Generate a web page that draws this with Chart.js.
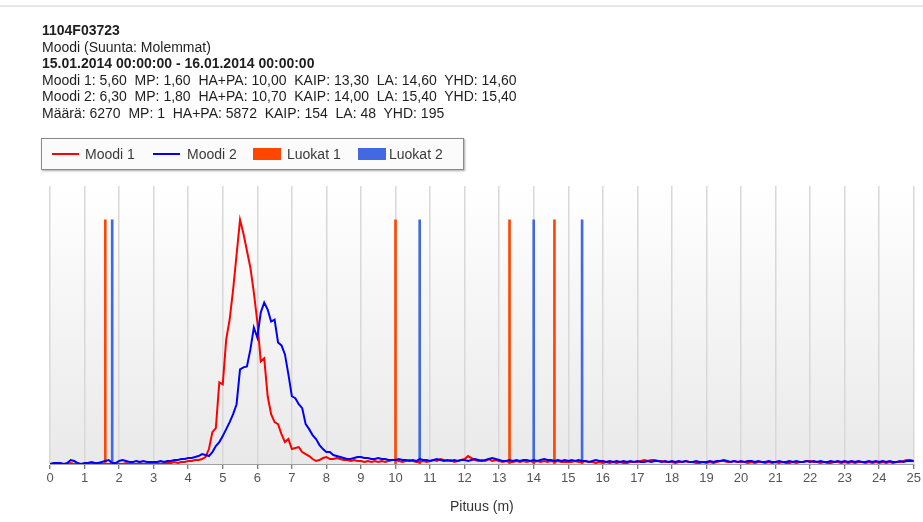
<!DOCTYPE html>
<html>
<head>
<meta charset="utf-8">
<script src="https://cdn.jsdelivr.net/npm/chart.js@4"></script>
<style>
  html, body { margin: 0; padding: 0; background: #ffffff; }
  #wrap { position: relative; width: 923px; height: 522px; overflow: hidden; font-family: "Liberation Sans", Arial, sans-serif; }
  #topline { position: absolute; left: 0; top: 5px; width: 923px; height: 2px; background: #e6e6e6; }
  #header { position: absolute; left: 42px; top: 22px; font-size: 14px; line-height: 16.6px; color: #1e1e1e; white-space: pre; }
  #header .b { font-weight: bold; }
  #legend { position: absolute; left: 41px; top: 138px; width: 421px; height: 30px; border: 1.5px solid #8a8a8a; background: #fbfbfb; box-shadow: 1px 1px 2px rgba(0,0,0,0.35); font-size: 14px; color: #3a3a3a; }
  .li { position: absolute; top: 0; height: 30px; line-height: 30px; white-space: pre; }
  .sw-line { position: absolute; height: 2px; width: 27px; top: 14px; }
  .sw-box { position: absolute; height: 12px; width: 28px; top: 9px; }
  canvas { position: absolute; left: 0; top: 0; }
</style>
</head>
<body>
<div id="wrap">
  <div id="topline"></div>
  <canvas id="c" width="923" height="522"></canvas>
  <div id="header"></div>
  <div id="legend"></div>
</div>
<script>
// ---- Header texts ----
const headerLines = [
  "1104F03723",
  "Moodi (Suunta: Molemmat)",
  "15.01.2014 00:00:00 - 16.01.2014 00:00:00",
  "Moodi 1: 5,60  MP: 1,60  HA+PA: 10,00  KAIP: 13,30  LA: 14,60  YHD: 14,60",
  "Moodi 2: 6,30  MP: 1,80  HA+PA: 10,70  KAIP: 14,00  LA: 15,40  YHD: 15,40",
  "Määrä: 6270  MP: 1  HA+PA: 5872  KAIP: 154  LA: 48  YHD: 195"
];
const boldLines = [0, 2];

// ---- Series names ----
const seriesNames = ["Moodi 1", "Moodi 2", "Luokat 1", "Luokat 2"];

// ---- Length axis (m), one value per 0.1 m from 0.0 to 25.0 ----
const xStep = 0.1;
const xTickLabels = ["0","1","2","3","4","5","6","7","8","9","10","11","12","13","14","15","16","17","18","19","20","21","22","23","24","25"];
const axisTitle = "Pituus (m)";

// Moodi 1 frequency (relative units), 0.0 ... 25.0
const moodi1 = [
  0,0,0,0,0,0,1,0,0,0,
  0,0,0,0,0,0,0,0,1,0,
  0,0,1,0,0,0,1,0,0,1,
  0,1,0,1,1,1,2,1,2,2,
  3,3,4,4,5,7,15,32,36,82,
  80,125,145,175,210,245,231,214,197,172,
  143,103,106,68,50,42,40,30,22,25,
  15,16,17,12,10,8,5,3,4,6,
  7,5,5,6,5,4,4,3,4,3,
  3,2,3,2,3,2,3,2,3,4,
  4,3,2,3,4,3,2,2,3,2,
  3,4,3,5,4,3,4,2,3,4,
  5,8,6,4,3,4,3,5,3,4,
  3,2,3,2,2,3,2,3,2,3,
  2,3,2,3,2,3,2,3,2,2,
  2,2,3,2,2,3,2,2,1,2,
  1,2,1,2,1,2,1,1,2,2,
  2,3,4,3,4,4,3,3,2,2,
  2,1,2,2,3,2,2,1,1,2,
  1,2,1,2,3,3,2,2,3,2,
  2,2,1,2,1,2,2,1,2,1,
  2,1,2,1,1,2,1,2,2,3,
  3,2,2,1,2,1,1,2,2,1,
  2,1,2,1,2,2,1,2,1,2,
  1,2,1,2,1,2,2,3,4,4,
  3
];

// Moodi 2 frequency (relative units), 0.0 ... 25.0
const moodi2 = [
  0,1,1,1,0,1,4,3,1,0,
  1,1,2,1,1,2,3,4,1,1,
  3,4,3,2,2,3,2,3,2,2,
  2,2,3,2,3,3,4,4,5,5,
  6,6,7,8,10,9,8,12,18,22,
  28,35,42,50,60,95,97,98,115,137,
  127,152,162,155,143,145,122,119,110,90,
  68,66,60,56,40,35,29,25,19,15,
  12,12,9,8,7,6,5,5,6,7,
  7,6,6,5,5,6,5,5,4,4,
  4,5,4,4,3,4,3,5,4,4,
  3,4,5,4,3,4,3,4,3,4,
  4,3,4,5,4,3,4,5,6,5,
  4,3,3,4,3,4,3,4,4,3,
  4,3,4,5,4,4,3,4,3,4,
  3,4,3,4,3,3,2,3,4,3,
  3,2,3,2,3,2,3,2,3,2,
  3,2,2,3,2,3,3,2,3,2,
  3,2,3,2,3,2,2,3,2,2,
  2,3,2,3,3,4,3,2,3,2,
  3,2,3,3,2,3,2,2,3,2,
  2,3,2,2,3,2,3,2,2,3,
  2,3,2,3,2,2,3,2,3,2,
  3,2,3,2,3,2,2,3,2,3,
  2,3,2,3,2,2,3,2,3,3,
  3
];

// Class limits (m) and their marker height
const luokat1 = [1.6, 10.0, 13.3, 14.6];
const luokat2 = [1.8, 10.7, 14.0, 15.4];
const luokatHeight = 245;

const yMax = 279;

// ---- Colours ----
const colors = ["#ff0000", "#0000ff", "#ff4500", "#4169e1"];

// ---- Build header ----
const header = document.getElementById("header");
headerLines.forEach((t, i) => {
  const d = document.createElement("div");
  d.textContent = t;
  if (boldLines.includes(i)) d.className = "b";
  header.appendChild(d);
});

// ---- Build legend ----
const legend = document.getElementById("legend");
const legendPos = [
  { sw: 10, tx: 43, kind: "line" },
  { sw: 111, tx: 145, kind: "line" },
  { sw: 211, tx: 245, kind: "box" },
  { sw: 316, tx: 347, kind: "box" }
];
seriesNames.forEach((name, i) => {
  const p = legendPos[i];
  const s = document.createElement("div");
  s.className = p.kind === "line" ? "sw-line" : "sw-box";
  s.style.left = p.sw + "px";
  s.style.background = colors[i];
  legend.appendChild(s);
  const t = document.createElement("div");
  t.className = "li";
  t.style.left = p.tx + "px";
  t.textContent = name;
  legend.appendChild(t);
});

// ---- Chart data ----
const toPoints = arr => arr.map((v, i) => ({ x: Math.round(i * xStep * 10) / 10, y: v }));
const toBars = arr => arr.map(x => ({ x: x, y: luokatHeight }));

const bgPlugin = {
  id: "bg",
  beforeDraw(chart) {
    const { ctx, chartArea: a } = chart;
    const g = ctx.createLinearGradient(0, a.top, 0, a.bottom);
    g.addColorStop(0, "#ffffff");
    g.addColorStop(1, "#e9e9e9");
    ctx.save();
    ctx.fillStyle = g;
    ctx.fillRect(a.left, a.top, a.right - a.left, a.bottom - a.top);
    ctx.restore();
  }
};

new Chart(document.getElementById("c"), {
  type: "line",
  data: {
    datasets: [
      { type: "line", label: seriesNames[0], data: toPoints(moodi1), borderColor: colors[0], borderWidth: 2, pointRadius: 0, tension: 0, fill: false, order: 1 },
      { type: "line", label: seriesNames[1], data: toPoints(moodi2), borderColor: colors[1], borderWidth: 2, pointRadius: 0, tension: 0, fill: false, order: 0 },
      { type: "bar", label: seriesNames[2], data: toBars(luokat1), backgroundColor: colors[2], barThickness: 2, grouped: false, order: 3 },
      { type: "bar", label: seriesNames[3], data: toBars(luokat2), backgroundColor: colors[3], barThickness: 2, grouped: false, order: 2 }
    ]
  },
  options: {
    responsive: false,
    animation: false,
    devicePixelRatio: 1,
    layout: { padding: { left: 50, right: 7, top: 186, bottom: 5 } },
    plugins: { legend: { display: false }, tooltip: { enabled: false } },
    scales: {
      x: {
        type: "linear", min: 0, max: 25, offset: false,
        grid: { offset: false, color: "#d8d8d8", lineWidth: 1.5, tickColor: "#505050", tickLength: 5, tickWidth: 1 },
        border: { color: "#a0a0a0", width: 1 },
        ticks: {
          stepSize: 1, padding: 2, color: "#555555",
          font: { family: "Liberation Sans", size: 13 },
          callback: (v) => xTickLabels[v] !== undefined ? xTickLabels[v] : ""
        },
        title: { display: true, text: axisTitle, color: "#333333", font: { family: "Liberation Sans", size: 14 }, padding: { top: 10.6, bottom: 1 } }
      },
      y: { display: false, min: 0, max: yMax }
    }
  },
  plugins: [bgPlugin]
});
</script>
</body>
</html>
